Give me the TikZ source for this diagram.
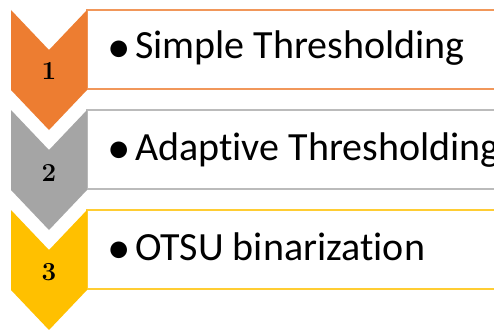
\documentclass[tikz,border=0pt]{standalone}
\usepackage{fontspec}
\setmainfont[Ligatures=NoCommon]{Carlito}
\definecolor{corange}{HTML}{ED7D31}
\definecolor{cgray}{HTML}{A5A5A5}
\definecolor{cyellow}{HTML}{FFC000}
\begin{document}
\begin{tikzpicture}[x=1pt,y=-1pt,
  chev/.style={fill=#1,draw=none},
  bar/.style={draw=#1,line width=1.2pt,fill=white},
  num/.style={font=\fontspec{Latin Modern Roman}\fontsize{26}{26}\selectfont\bfseries,anchor=base,inner sep=0pt},
  bul/.style={font=\fontsize{47}{47}\selectfont,anchor=base,inner sep=0pt},
  lab/.style={font=\fontsize{40}{48}\selectfont,anchor=base west,inner sep=0pt}]
\path[use as bounding box,clip] (0,0) rectangle (494,329);
\fill[white] (0,0) rectangle (494,329);
% bars
\draw[bar=corange!80] (87,10) rectangle (510,89);
\draw[bar=cgray!75] (87,110) rectangle (510,189);
\draw[bar=cyellow!80] (87,210) rectangle (510,289);
% chevrons
\fill[chev=corange] (11,10) -- (49,50) -- (87,10) -- (87,90) -- (49,130) -- (11,90) -- cycle;
\fill[chev=cgray] (11,110) -- (49,150) -- (87,110) -- (87,190) -- (49,230) -- (11,190) -- cycle;
\fill[chev=cyellow] (11,210) -- (49,250) -- (87,210) -- (87,290) -- (49,330) -- (11,290) -- cycle;
% numbers
\node[num] (n1) at (49,79) {1};
\node[num] (n2) at (49,181) {2};
\node[num] (n3) at (49,280) {3};
% bullets and labels
\node[bul] (b1) at (119,62) {•};
\node[lab] (t1) at (135,59) {Simple Thresholding};
\node[bul] (b2) at (119,163) {•};
\node[lab] (t2) at (135,160) {Adaptive Thresholding};
\node[bul] (b3) at (119,263) {•};
\node[lab] (t3) at (135,260) {OTSU binarization};
\end{tikzpicture}
\end{document}
